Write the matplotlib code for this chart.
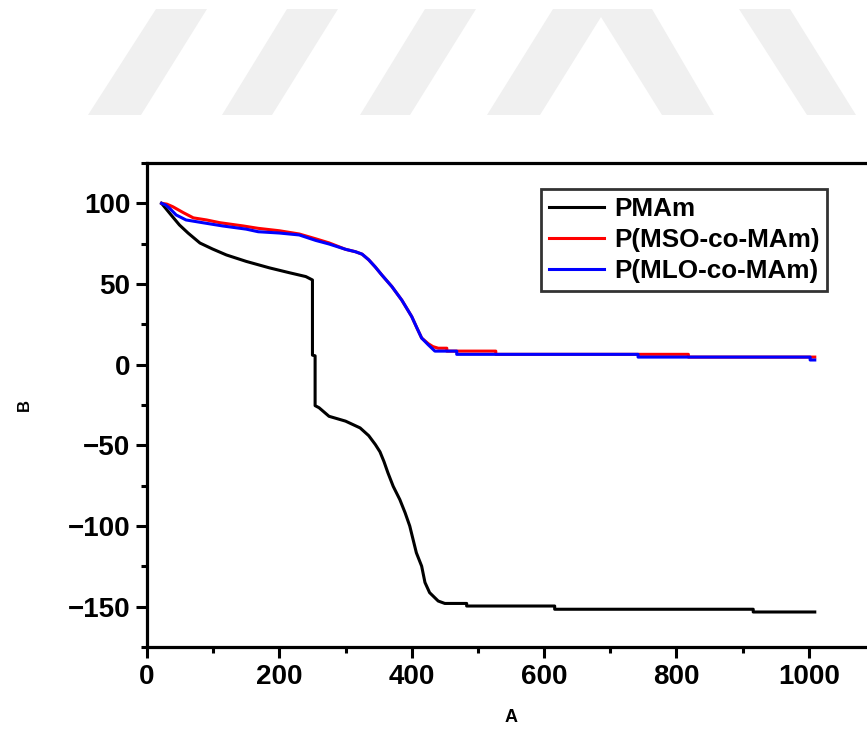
import matplotlib
matplotlib.use('Agg')
import matplotlib.pyplot as plt
from matplotlib.patches import Polygon
from matplotlib.ticker import MultipleLocator

plt.rcParams['font.family'] = ['Liberation Sans', 'DejaVu Sans']
plt.rcParams['font.weight'] = 'bold'

# data
pmam_x = [22, 30, 37, 49, 62, 80, 99, 120, 150, 185, 215, 240, 250, 250, 254, 254, 260, 275, 300,
          322, 335, 345, 352, 358, 364, 372, 382, 390, 397, 402, 407, 415, 420, 427, 440, 450, 483, 483,
          616, 616, 916, 916, 1009]
pmam_y = [100, 96, 92.5, 86.6, 81.6, 75.4, 71.7, 68, 64, 60, 57, 54.6, 52.5, 5.9, 5.5, -25.4, -26.7, -32, -35,
          -39.2, -44, -49.5, -54, -60, -67, -75.4, -83.6, -91.8, -100, -108.3, -116.6, -124.9, -135, -141.3,
          -146.5, -148, -148, -149.6, -149.6, -151.6, -151.6, -153.3, -153.3]

mso_x = [22, 30, 39, 55, 70, 90, 110, 145, 168, 200, 230, 255, 275, 300, 315, 325, 335, 345, 355, 370,
         385, 400, 408, 415, 425, 432, 440, 453, 453, 527, 527, 818, 818, 1009]
mso_y = [100, 99.5, 97.9, 94.2, 91, 89.7, 88, 86, 84.5, 83, 81, 78, 75.5, 71.5, 70, 68.5, 65, 60.5, 55.5, 48.4,
         40, 29.8, 22.6, 16.5, 13, 11.2, 10.2, 10.2, 8.4, 8.4, 6.4, 6.4, 4.7, 4.7]

mlo_x = [22, 28, 34, 44, 59, 84, 114, 150, 168, 200, 230, 255, 275, 300, 315, 325, 335, 345, 355, 370,
         385, 400, 408, 415, 425, 435, 468, 468, 742, 742, 1002, 1002, 1009]
mlo_y = [100, 99, 97, 92.8, 89.7, 88, 86, 84, 82.4, 81.6, 80.4, 77, 74.8, 71.5, 70, 68.5, 65, 60.5, 55.5, 48.4,
         40, 29.8, 22.6, 16.5, 12.3, 8.4, 8.4, 6.4, 6.4, 4.7, 4.7, 2.9, 2.9]

labels = ['PMAm', 'P(MSO-co-MAm)', 'P(MLO-co-MAm)']
colors = ['black', 'red', 'blue']

fig = plt.figure(figsize=(8.67, 7.31), dpi=100)
W, H = 867.0, 731.0

# faint watermark at the top
marks = [
    [(156, 9), (207, 9), (141, 115), (88, 115)],
    [(287, 9), (338, 9), (272, 115), (222, 115)],
    [(425, 9), (476, 9), (410, 115), (360, 115)],
    [(553, 9), (652, 9), (714, 115), (662, 115), (601, 17), (540, 115), (487, 115)],
    [(739, 9), (790, 9), (856, 115), (807, 115)],
]
for m in marks:
    pts = [(px / W, 1 - py / H) for px, py in m]
    fig.add_artist(Polygon(pts, closed=True, transform=fig.transFigure,
                           facecolor='#f0f0f0', edgecolor='none', zorder=0))

ax = fig.add_axes([147 / W, 84 / H, 728 / W, 484 / H])
lw = 2.2
ax.plot(pmam_x, pmam_y, color=colors[0], lw=lw, label=labels[0])
ax.plot(mso_x, mso_y, color=colors[1], lw=lw, label=labels[1])
ax.plot(mlo_x, mlo_y, color=colors[2], lw=lw, label=labels[2])

ax.set_xlim(0, 1100)
ax.set_ylim(-175, 125)
ax.set_xticks([0, 200, 400, 600, 800, 1000])
ax.set_yticks([-150, -100, -50, 0, 50, 100])
ax.xaxis.set_minor_locator(MultipleLocator(100))
ax.yaxis.set_minor_locator(MultipleLocator(25))

for s in ax.spines.values():
    s.set_linewidth(2.3)
ax.spines['right'].set_visible(False)

ax.tick_params(which='major', direction='out', length=8, width=2.2, labelsize=20, pad=4)
ax.tick_params(which='minor', direction='out', length=4, width=2.2)
ax.tick_params(top=False, right=False, which='both')

ax.set_xlabel('A', fontsize=13, fontweight='bold', labelpad=14)
ax.set_ylabel('B', fontsize=12, fontweight='bold', labelpad=26)

leg = ax.legend(loc='upper left', bbox_to_anchor=(0.541, 0.946), borderaxespad=0,
                fontsize=18.8, frameon=True, fancybox=False, handlelength=2.1,
                handletextpad=0.4, labelspacing=0.27, borderpad=0.3)
leg.get_frame().set_edgecolor('black')
leg.get_frame().set_linewidth(2.0)
for t in leg.get_texts():
    t.set_fontweight('bold')

fig.savefig('out.png', dpi=100)
